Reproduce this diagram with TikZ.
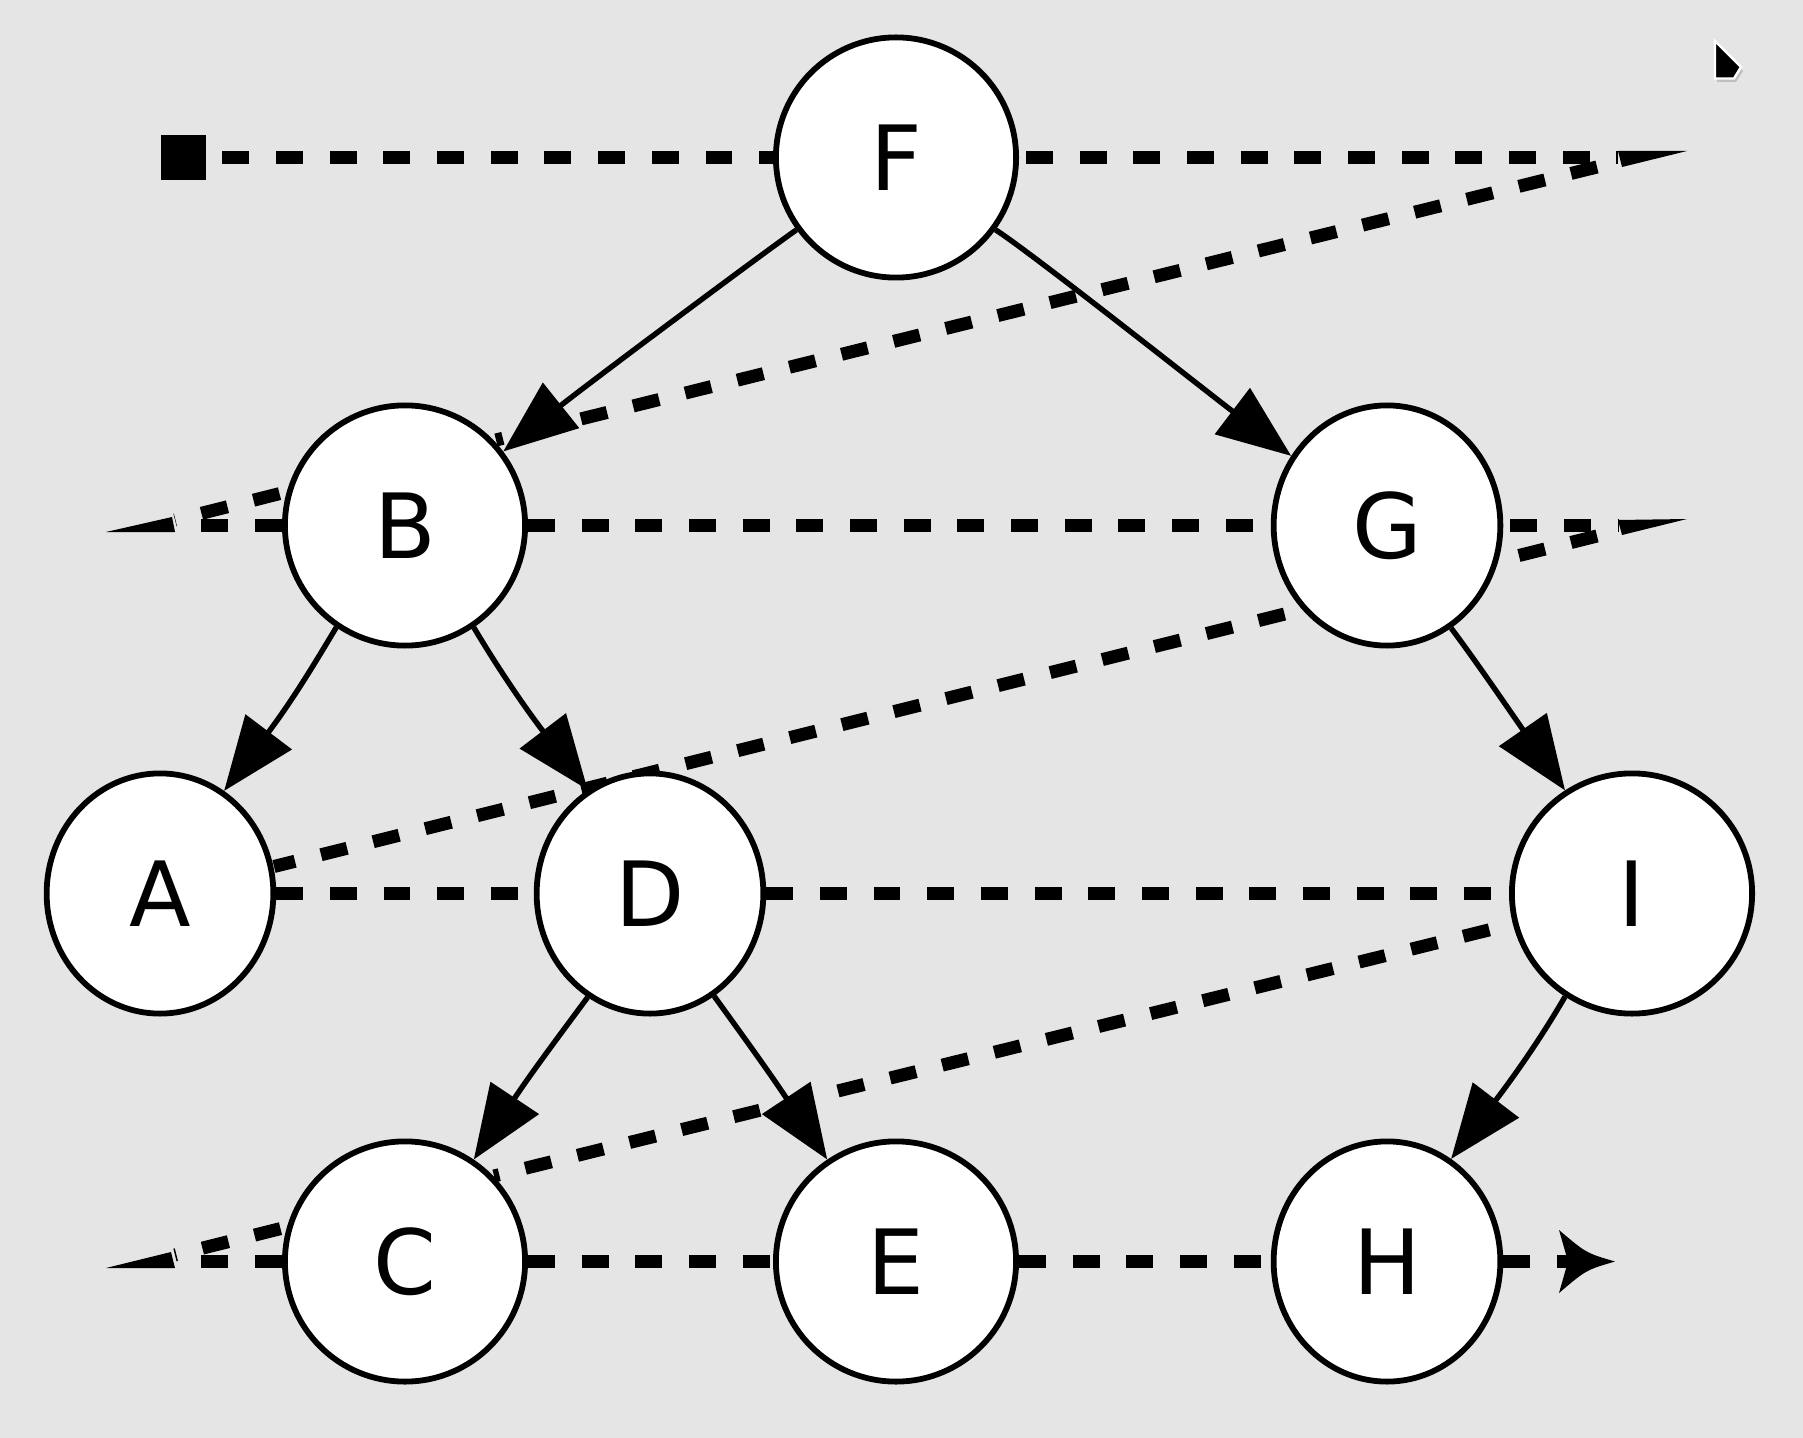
\documentclass[tikz,border=0pt]{standalone}
\usepackage{fontspec}
\setmainfont{DejaVu Sans}
\usetikzlibrary{shapes.geometric,arrows.meta}
\definecolor{bg}{HTML}{E5E5E5}
\pgfdeclarelayer{bgfill}
\pgfdeclarelayer{back}
\pgfsetlayers{bgfill,back,main}
\begin{document}
\begin{tikzpicture}[x=0.5pt,y=-0.5pt,
  nd/.style={ellipse,draw=black,fill=white,line width=2.9pt,inner sep=0pt,minimum height=120.1pt,font=\fontsize{45}{54}\selectfont},
  wide/.style={nd,minimum width=120.1pt},
  slim/.style={nd,minimum width=113.35pt},
  dline/.style={line width=6.5pt,dash pattern=on 13.42pt off 13.42pt},
  edge/.style={line width=2.7pt,-{Triangle[length=37pt,width=28.5pt]}},
  wedge/.style={fill=black}]
\useasboundingbox (0,0) rectangle (1803,1438);
\begin{pgfonlayer}{bgfill}
\fill[bg] (0,0) rectangle (1803,1438);
\end{pgfonlayer}

% nodes
\node[wide] (F) at (896,157.5) {F};
\node[wide] (B) at (405,525.5) {B};
\node[slim] (G) at (1387,525.5) {G};
\node[slim] (A) at (160,893.5) {A};
\node[slim] (D) at (650,893.5) {D};
\node[wide] (I) at (1632,893.5) {I};
\node[wide] (C) at (405,1261.5) {C};
\node[wide] (E) at (896,1261.5) {E};
\node[slim] (H) at (1387,1261.5) {H};
\node[rectangle,fill=black,inner sep=0pt,minimum size=22.5pt] (sq) at (183.5,157.5) {};

% free ends
\coordinate (R1) at (1618,157.5);
\coordinate (R2) at (1618,525.5);
\coordinate (L1) at (175,525.5);
\coordinate (L3) at (175,1261.5);
\coordinate (Hend) at (1568,1261.5);
\coordinate (d1s) at (1597,167);
\coordinate (d1e) at (496,440);
\coordinate (d1f) at (286,492);
\coordinate (d1l) at (175,520);
\coordinate (d2s) at (1597,536);
\coordinate (d2e) at (274,866.5);
\coordinate (d3s) at (1513,924);
\coordinate (d3e) at (494,1176);
\coordinate (d3f) at (287,1227);
\coordinate (d3l) at (175,1255);

\begin{pgfonlayer}{back}
% horizontal dashed threads
\draw[dline,dash phase=18.85pt] (sq) -- (F);
\draw[dline,dash phase=23.35pt] (F) -- (R1);
\draw[dline] (B) -- (L1);
\draw[dline] (B) -- (G);
\draw[dline,dash phase=23.35pt] (G) -- (R2);
\draw[dline] (A) -- (D);
\draw[dline] (D) -- (I);
\draw[dline] (C) -- (L3);
\draw[dline] (C) -- (E);
\draw[dline] (E) -- (H);
\draw[dline] (H) -- (Hend);
% diagonal dashed threads
\draw[dline] (d1s) -- (d1e);
\draw[dline,dash phase=23.5pt] (d1f) -- (d1l);
\draw[dline] (d2s) -- (d2e);
\draw[dline,dash phase=14.65pt] (d3s) -- (d3e);
\draw[dline,dash phase=23.5pt] (d3f) -- (d3l);
% wedge ends
\fill[wedge] (1618,151) -- (1687,151) -- (1622,167) -- cycle;
\fill[wedge] (1618,520) -- (1687,519) -- (1622,535) -- cycle;
\fill[wedge] (106,532) -- (172,517) -- (175,532) -- cycle;
\fill[wedge] (106,1268) -- (171,1252) -- (175,1268) -- cycle;
\fill[wedge] (1615,1261.5) .. controls (1586,1253) .. (1559,1230) -- (1568,1261.5) -- (1559,1293) .. controls (1586,1270) .. (1615,1261.5) -- cycle;
\end{pgfonlayer}

% tree edges
\draw[edge] (F.216) .. controls (762,254) and (589,383) .. (B.37);
\draw[edge] (F.324) .. controls (1033,254) and (1202,388) .. (G.144);
\draw[edge] (B.236) .. controls (315,663) and (292,701) .. (A.58);
\draw[edge] (B.304) .. controls (495,663) and (520,701) .. (D.121);
\draw[edge] (G.302) .. controls (1475,660) and (1503,701) .. (I.123);
\draw[edge] (D.239) .. controls (559,1036) and (532,1072) .. (C.56);
\draw[edge] (D.302) .. controls (743,1036) and (769,1072) .. (E.124);
\draw[edge] (I.237) .. controls (1544,1033) and (1518,1071) .. (H.58);

% corner marker
\fill[black!25] (1717,45) -- (1743,71) -- (1736,82) -- (1717,82) -- cycle;
\filldraw[fill=black,draw=white,line width=1.2pt] (1715,41) -- (1741,67) -- (1734,78.5) -- (1715,78.5) -- cycle;
\end{tikzpicture}
\end{document}
